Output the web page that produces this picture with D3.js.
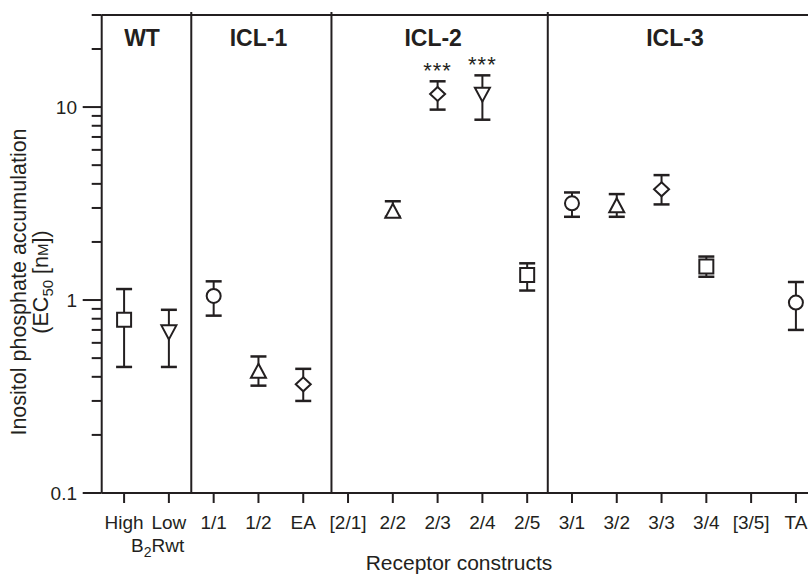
<!DOCTYPE html>
<html>
<head>
<meta charset="utf-8">
<script src="https://cdn.jsdelivr.net/npm/d3@7"></script>
<style>
body{margin:0;background:#fff;}
text{font-family:"Liberation Sans",Arial,Helvetica,sans-serif;fill:#231f20;}
</style>
</head>
<body>
<svg id="screen" width="808" height="574"></svg>
<script>
const screenEl = document.querySelector("#screen");

//data
const categories = ["High","Low","1/1","1/2","EA","[2/1]","2/2","2/3","2/4","2/5","3/1","3/2","3/3","3/4","[3/5]","TA"];
const means = [0.79,0.68,1.05,0.43,0.366,null,2.9,11.7,11.6,1.35,3.17,3.1,3.75,1.49,null,0.97];
const lower = [0.45,0.45,0.83,0.36,0.30,null,2.7,9.7,8.6,1.12,2.70,2.70,3.13,1.32,null,0.70];
const upper = [1.14,0.89,1.25,0.51,0.44,null,3.25,13.6,14.6,1.55,3.61,3.54,4.44,1.68,null,1.24];
const shapes = ["square","triDown","circle","triUp","diamond",null,"triUp","diamond","triDown","square","circle","triUp","diamond","square",null,"circle"];
const stars = ["","","","","","","","***","***","","","","","","",""];
const groups = ["WT","ICL-1","ICL-2","ICL-3"];
const groupPos = [0.4,3.0,6.9,12.3];
const dividers = [1.5,4.63,9.46];
const yTicks = [0.1,1,10];

//settings
const ink = "#231f20";
const plotLeft = 101.7, plotBottom = 493, plotTop = 15;

const x = d3.scaleLinear().domain([-0.5,15.27]).range([plotLeft,808]);
const y = d3.scaleLog().domain([0.1,30]).range([plotBottom,plotTop]);

var svg = d3.select(screenEl);

//minor + major y ticks
var minor = [];
[0.1,1,10].forEach(function(d){
    for (var k=2;k<=9;k++){ if (d*k<=30.01) minor.push(d*k); }
});
svg.selectAll(".minor").data(minor).enter().append("line")
.attr("x1",plotLeft-10).attr("x2",plotLeft)
.attr("y1",d=>y(d)).attr("y2",d=>y(d))
.attr("stroke",ink).attr("stroke-width",2);

svg.selectAll(".major").data(yTicks).enter().append("line")
.attr("x1",plotLeft-19).attr("x2",plotLeft)
.attr("y1",d=>y(d)).attr("y2",d=>y(d))
.attr("stroke",ink).attr("stroke-width",2);

svg.selectAll(".ylab").data(yTicks).enter().append("text")
.attr("x",77).attr("y",d=>y(d)+7)
.attr("text-anchor","end").attr("font-size",19)
.text(d=>d);

//frame
svg.append("line").attr("x1",plotLeft).attr("x2",plotLeft).attr("y1",plotTop).attr("y2",plotBottom)
.attr("stroke",ink).attr("stroke-width",2);
svg.append("line").attr("x1",plotLeft).attr("x2",808).attr("y1",plotTop).attr("y2",plotTop)
.attr("stroke",ink).attr("stroke-width",2);
svg.append("line").attr("x1",plotLeft).attr("x2",808).attr("y1",plotBottom).attr("y2",plotBottom)
.attr("stroke",ink).attr("stroke-width",2);

svg.selectAll(".divider").data(dividers).enter().append("line")
.attr("x1",d=>x(d)).attr("x2",d=>x(d)).attr("y1",plotTop-3).attr("y2",plotBottom)
.attr("stroke",ink).attr("stroke-width",2);

//x ticks
svg.selectAll(".xtick").data(categories).enter().append("line")
.attr("x1",(d,i)=>x(i)).attr("x2",(d,i)=>x(i))
.attr("y1",plotBottom).attr("y2",plotBottom+10)
.attr("stroke",ink).attr("stroke-width",2);

svg.selectAll(".xlab").data(categories).enter().append("text")
.attr("x",(d,i)=>x(i)).attr("y",529)
.attr("text-anchor","middle").attr("font-size",19)
.text(d=>d);

var b2 = svg.append("text").attr("x",x(0.75)).attr("y",552)
.attr("text-anchor","middle").attr("font-size",19);
b2.append("tspan").text("B");
b2.append("tspan").attr("font-size",14).attr("dy",5).text("2");
b2.append("tspan").attr("dy",-5).text("Rwt");

svg.append("text").attr("x",459).attr("y",570)
.attr("text-anchor","middle").attr("font-size",21)
.text("Receptor constructs");

//y title
var yt = svg.append("g").attr("transform","translate(26,282) rotate(-90)");
yt.append("text").attr("text-anchor","middle").attr("font-size",21.5)
.text("Inositol phosphate accumulation");
var yt2 = yt.append("text").attr("y",22).attr("text-anchor","middle").attr("font-size",21.5);
yt2.append("tspan").text("(EC");
yt2.append("tspan").attr("font-size",15).attr("dy",5).text("50");
yt2.append("tspan").attr("dy",-5).text(" [n");
yt2.append("tspan").attr("font-size",15).text("M");
yt2.append("tspan").text("])");

//group labels
svg.selectAll(".group").data(groups).enter().append("text")
.attr("x",(d,i)=>x(groupPos[i])).attr("y",46)
.attr("text-anchor","middle").attr("font-size",23).attr("font-weight","bold")
.text(d=>d);

//error bars
var pts = categories.map(function(c,i){
    return {i:i, m:means[i], lo:lower[i], hi:upper[i], s:shapes[i], star:stars[i]};
}).filter(d=>d.m!=null);

svg.selectAll(".err").data(pts).enter().append("line")
.attr("x1",d=>x(d.i)).attr("x2",d=>x(d.i))
.attr("y1",d=>y(d.hi)).attr("y2",d=>y(d.lo))
.attr("stroke",ink).attr("stroke-width",2);

svg.selectAll(".capHi").data(pts).enter().append("line")
.attr("x1",d=>x(d.i)-8).attr("x2",d=>x(d.i)+8)
.attr("y1",d=>y(d.hi)).attr("y2",d=>y(d.hi))
.attr("stroke",ink).attr("stroke-width",2.5);

svg.selectAll(".capLo").data(pts).enter().append("line")
.attr("x1",d=>x(d.i)-8).attr("x2",d=>x(d.i)+8)
.attr("y1",d=>y(d.lo)).attr("y2",d=>y(d.lo))
.attr("stroke",ink).attr("stroke-width",2.5);

//markers
function markerPath(s){
    if (s=="square") return "M-7,-7L7,-7L7,7L-7,7Z";
    if (s=="circle") return "M7,0A7,7 0 1,1 -7,0A7,7 0 1,1 7,0Z";
    if (s=="triUp") return "M0,-7L7.5,7L-7.5,7Z";
    if (s=="triDown") return "M0,7L7.5,-7L-7.5,-7Z";
    if (s=="diamond") return "M0,-7L7.5,0L0,7L-7.5,0Z";
}
svg.selectAll(".pt").data(pts).enter().append("path")
.attr("d",d=>markerPath(d.s))
.attr("transform",d=>"translate("+x(d.i)+","+y(d.m)+")")
.attr("fill","#fff").attr("stroke",ink).attr("stroke-width",2);

//significance
svg.selectAll(".star").data(pts.filter(d=>d.star)).enter().append("text")
.attr("x",d=>x(d.i)).attr("y",d=>y(d.hi)-3)
.attr("text-anchor","middle").attr("font-size",22).attr("letter-spacing",1)
.text(d=>d.star);
</script>
</body>
</html>
